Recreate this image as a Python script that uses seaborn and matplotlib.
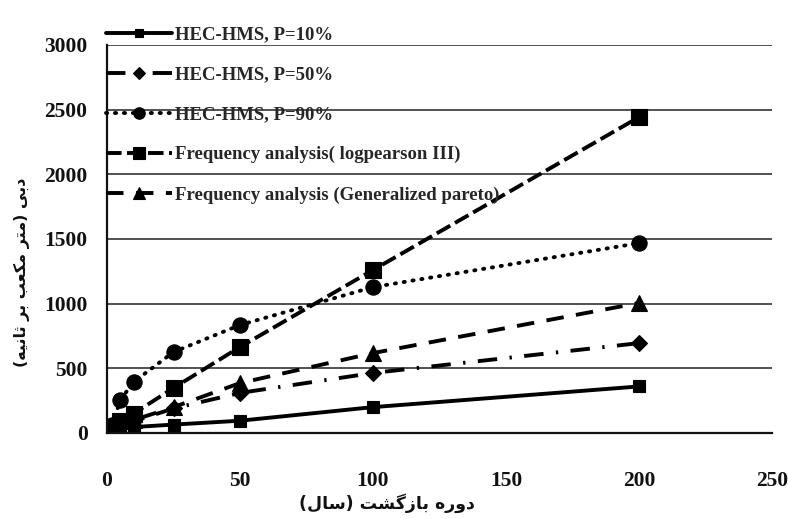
import matplotlib
matplotlib.use("Agg")
import matplotlib.pyplot as plt
import seaborn as sns
import pandas as pd

# ---------------- data ----------------
return_period = [2, 5, 10, 25, 50, 100, 200]
hms_p10 = [10, 28, 46, 65, 95, 200, 360]
hms_p50 = [20, 50, 90, 190, 310, 464, 695]
hms_p90 = [60, 255, 394, 626, 835, 1128, 1468]
freq_lp3 = [45, 90, 150, 348, 665, 1260, 2442]
freq_gp = [20, 50, 100, 200, 386, 618, 1005]

series_labels = [
    "HEC-HMS, P=10%",
    "HEC-HMS, P=50%",
    "HEC-HMS, P=90%",
    "Frequency analysis( logpearson III)",
    "Frequency analysis (Generalized pareto)",
]
xticks = [0, 50, 100, 150, 200, 250]
yticks = [0, 500, 1000, 1500, 2000, 2500, 3000]
xlabel_fa = "دوره بازگشت (سال)"
ylabel_fa = "دبی (متر مکعب بر ثانیه)"

# ---------------- simple Persian shaping (visual order) ----------------
FORMS = {
    'ا': ('\uFE8D', '\uFE8E', None, None),
    'ب': ('\uFE8F', '\uFE90', '\uFE91', '\uFE92'),
    'ت': ('\uFE95', '\uFE96', '\uFE97', '\uFE98'),
    'ث': ('\uFE99', '\uFE9A', '\uFE9B', '\uFE9C'),
    'د': ('\uFEA9', '\uFEAA', None, None),
    'ر': ('\uFEAD', '\uFEAE', None, None),
    'ز': ('\uFEAF', '\uFEB0', None, None),
    'س': ('\uFEB1', '\uFEB2', '\uFEB3', '\uFEB4'),
    'ش': ('\uFEB5', '\uFEB6', '\uFEB7', '\uFEB8'),
    'ع': ('\uFEC9', '\uFECA', '\uFECB', '\uFECC'),
    'ل': ('\uFEDD', '\uFEDE', '\uFEDF', '\uFEE0'),
    'م': ('\uFEE1', '\uFEE2', '\uFEE3', '\uFEE4'),
    'ن': ('\uFEE5', '\uFEE6', '\uFEE7', '\uFEE8'),
    'ه': ('\uFEE9', '\uFEEA', '\uFEEB', '\uFEEC'),
    'و': ('\uFEED', '\uFEEE', None, None),
    'ک': ('\uFB8E', '\uFB8F', '\uFB90', '\uFB91'),
    'گ': ('\uFB92', '\uFB93', '\uFB94', '\uFB95'),
    'ی': ('\uFBFC', '\uFBFD', '\uFBFE', '\uFBFF'),
}


def shape_fa(text):
    chars = list(text)
    out = []
    for i, c in enumerate(chars):
        if c not in FORMS:
            out.append(c)
            continue
        f = FORMS[c]
        prev = chars[i - 1] if i > 0 else None
        nxt = chars[i + 1] if i + 1 < len(chars) else None
        jp = prev in FORMS and FORMS[prev][2] is not None
        jn = f[2] is not None and nxt in FORMS
        if jp and jn:
            g = f[3]
        elif jp:
            g = f[1]
        elif jn:
            g = f[2]
        else:
            g = f[0]
        out.append(g)
    s = ''.join(out)[::-1]
    return s.translate(str.maketrans('()', ')('))


# ---------------- figure ----------------
sns.set_theme(style="white")
plt.rcParams['font.family'] = ['Liberation Serif', 'DejaVu Serif']

W, H = 788, 519
fig = plt.figure(figsize=(W / 100, H / 100), dpi=100)
fig.patch.set_facecolor("white")
x0, x1, y0, y1 = 107, 772, 433, 45
ax = fig.add_axes([x0 / W, 1 - y0 / H, (x1 - x0) / W, (y0 - y1) / H])
ax.set_facecolor("white")

values = [hms_p10, hms_p50, hms_p90, freq_lp3, freq_gp]
styles = [
    dict(marker='s', markersize=8.5, lw=2.8, dashes=None),
    dict(marker='D', markersize=8.5, lw=2.8, dashes=(5, 3.2, 0.6, 3.2)),
    dict(marker='o', markersize=11, lw=2.8, dashes=(0.3, 2.0)),
    dict(marker='s', markersize=11, lw=2.8, dashes=(4, 1.4)),
    dict(marker='^', markersize=11, lw=2.8, dashes=(4.5, 3.2)),
]

for lab, vals, st in zip(series_labels, values, styles):
    df = pd.DataFrame({"T": return_period, "Q": vals})
    kws = dict(x="T", y="Q", data=df, ax=ax, color="black", label=lab,
               marker=st["marker"], markersize=st["markersize"],
               markeredgecolor="black", markeredgewidth=0.8,
               linewidth=st["lw"], errorbar=None)
    if st["dashes"] is not None:
        kws["dashes"] = st["dashes"]
        kws["dash_capstyle"] = "round" if st["marker"] == 'o' else "butt"
    sns.lineplot(**kws)

ax.set_xlim(0, 250)
ax.set_ylim(0, 3000)
ax.set_xticks(xticks)
ax.set_yticks(yticks)
ax.yaxis.grid(True, color="#222222", linewidth=1.1)
ax.xaxis.grid(False)
ax.set_axisbelow(True)
for side in ["top", "right"]:
    ax.spines[side].set_visible(False)
for side in ["left", "bottom"]:
    ax.spines[side].set_visible(True)
    ax.spines[side].set_color("#111111")
    ax.spines[side].set_linewidth(1.6)

ax.tick_params(axis="both", length=0, labelsize=15.5, colors="#111111")
ax.tick_params(axis="y", pad=14)
ax.tick_params(axis="x", pad=27)
for t in ax.get_xticklabels() + ax.get_yticklabels():
    t.set_fontweight("bold")
    t.set_family(['Liberation Serif'])

ax.set_xlabel("")
ax.set_ylabel("")
fig.text(387 / W, 1 - 503 / H, shape_fa(xlabel_fa), ha="center", va="center",
         fontsize=12.5, fontweight="bold", family=['DejaVu Sans'], color="#111111")
fig.text(22 / W, 1 - 272 / H, shape_fa(ylabel_fa), ha="center", va="center",
         rotation=90, fontsize=11.5, fontweight="bold", family=['DejaVu Sans'],
         color="#111111")

leg = ax.legend(loc="upper left", bbox_to_anchor=(106 / W, 1 - 26 / H),
                bbox_transform=fig.transFigure, frameon=False,
                prop=dict(family='Liberation Serif', weight='bold', size=13.5),
                handlelength=3.5, handletextpad=0.2, labelspacing=1.22,
                borderpad=0, borderaxespad=0, markerscale=0.75)

fig.savefig("out.png", dpi=100, facecolor="white")
